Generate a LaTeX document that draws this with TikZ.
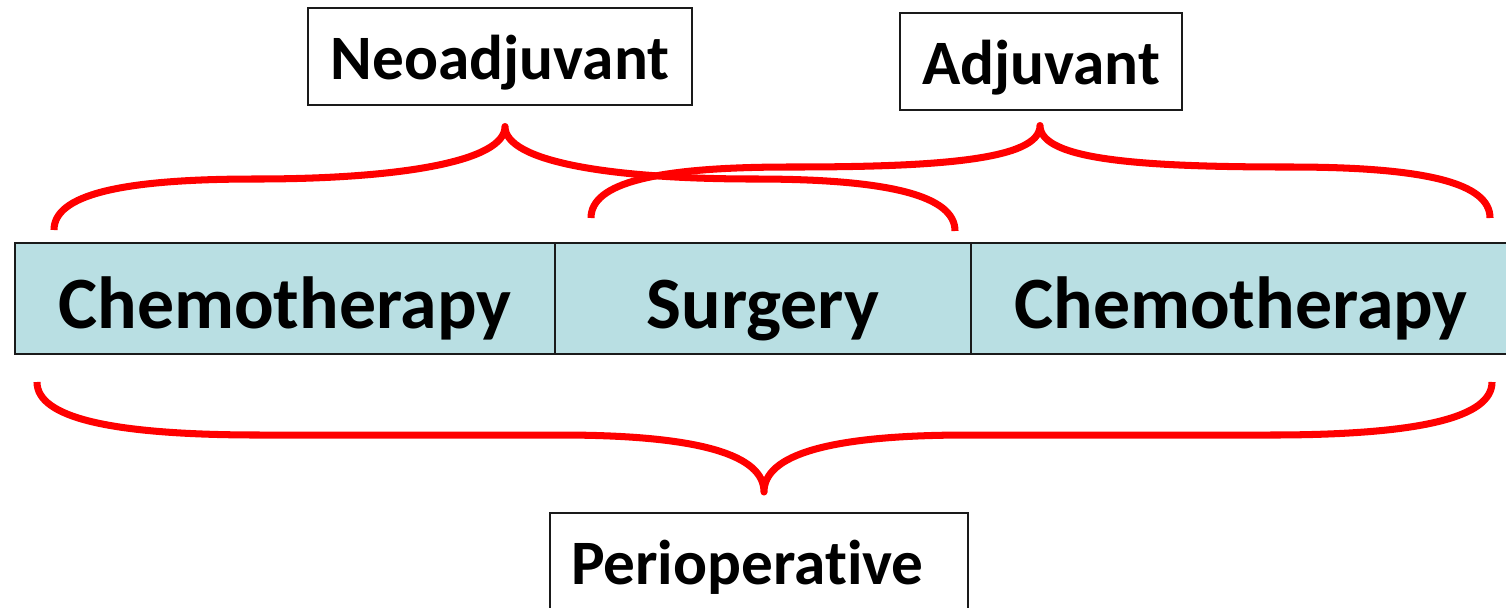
\documentclass[tikz,border=0pt]{standalone}
\usepackage{fontspec}
\setmainfont[Ligatures=NoCommon]{Carlito}
\usetikzlibrary{positioning, calc}
\definecolor{cphase}{HTML}{B9DFE3}
\definecolor{cred}{HTML}{FF0000}
\definecolor{cline}{HTML}{1A1A1A}
\tikzset{
  every picture/.style={line width=1.1pt},
  phase/.style={draw=cline, fill=cphase, minimum height=2.22cm, inner sep=0pt, outer sep=0pt,
    font=\fontsize{42}{50}\selectfont\bfseries, text height=36pt, text depth=2.4pt},
  tag/.style={draw=cline, fill=white, minimum height=1.94cm, inner sep=0pt, outer sep=0pt,
    font=\fontsize{36}{43}\selectfont\bfseries, text height=30pt, text depth=3.4pt},
  brace/.style={draw=cred, line width=4pt, line join=round},
}
\begin{document}
\begin{tikzpicture}
  \useasboundingbox (0,0) rectangle (30.12,-12.14);
  % treatment phases
  \node[phase, minimum width=10.8cm] (chemo1) at (5.70,-5.97) {Chemotherapy};
  \node[phase, minimum width=8.32cm, right=0pt of chemo1] (surgery) {Surgery};
  \node[phase, minimum width=10.8cm, right=0pt of surgery] (chemo2) {Chemotherapy};
  % labels
  \node[tag, minimum width=7.68cm] (neo) at (10.00,-1.13) {Neoadjuvant};
  \node[tag, minimum width=5.64cm] (adj) at (20.82,-1.23) {Adjuvant};
  \node[tag, minimum width=8.36cm, text width=7.52cm, align=left] (peri) at (15.18,-11.23) {Perioperative};
  % brace ends and tips
  \coordinate (neoL) at (1.08,-4.60);
  \coordinate (neoT) at ($(neo.south)+(0.10,-0.43)$);
  \coordinate (neoR) at (19.10,-4.62);
  \coordinate (adjL) at (11.82,-4.36);
  \coordinate (adjT) at ($(adj.south)+(-0.02,-0.31)$);
  \coordinate (adjR) at (29.80,-4.36);
  \coordinate (periL) at (0.74,-7.64);
  \coordinate (periT) at ($(peri.north)+(0.10,0.42)$);
  \coordinate (periR) at (29.84,-7.64);
  % braces
  \draw[brace] (neoL) .. controls ($(neoL)+(0,0.70)$) and (2.4,-3.58) .. (5.1,-3.58)
    .. controls (8.0,-3.58) and ($(neoT)+(0,-0.70)$) .. (neoT)
    .. controls ($(neoT)+(0,-0.70)$) and (12.2,-3.58) .. (15.1,-3.58)
    .. controls (17.8,-3.58) and ($(neoR)+(0,0.70)$) .. (neoR);
  \draw[brace] (adjL) .. controls ($(adjL)+(0,0.70)$) and (13.1,-3.34) .. (15.8,-3.34)
    .. controls (18.7,-3.34) and ($(adjT)+(0,-0.70)$) .. (adjT)
    .. controls ($(adjT)+(0,-0.70)$) and (22.9,-3.34) .. (25.8,-3.34)
    .. controls (28.5,-3.34) and ($(adjR)+(0,0.70)$) .. (adjR);
  \draw[brace] (periL) .. controls ($(periL)+(0,-0.71)$) and (2.2,-8.70) .. (5.2,-8.70) -- (11.2,-8.70)
    .. controls (14.0,-8.70) and ($(periT)+(0,0.74)$) .. (periT)
    .. controls ($(periT)+(0,0.74)$) and (16.56,-8.70) .. (19.36,-8.70) -- (25.4,-8.70)
    .. controls (28.4,-8.70) and ($(periR)+(0,-0.71)$) .. (periR);
\end{tikzpicture}
\end{document}
